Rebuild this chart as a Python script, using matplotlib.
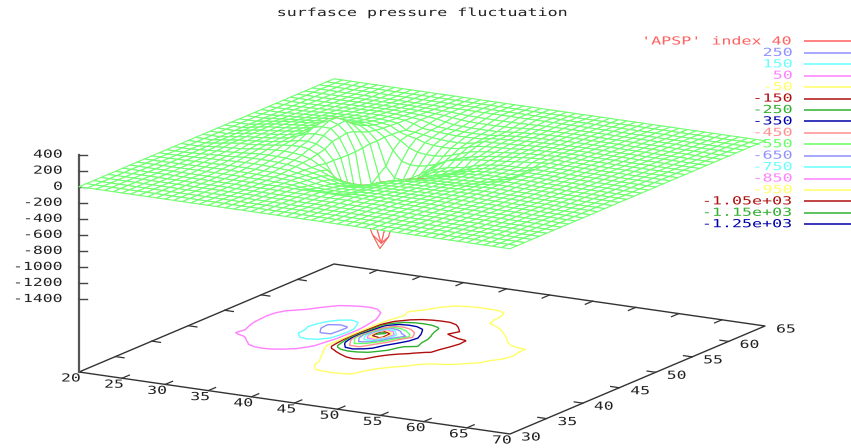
import numpy as np
import matplotlib
matplotlib.use("Agg")
import matplotlib.pyplot as plt
from matplotlib.collections import PolyCollection
from matplotlib.patheffects import AbstractPathEffect
from matplotlib.transforms import Affine2D

title = "surfasce pressure fluctuation"
series_label = "'APSP' index 40"
contour_levels = [250, 150, 50, -50, -150, -250, -350, -450, -550, -650, -750, -850, -950, -1050, -1150, -1250]
contour_labels = ["250", "150", "50", "-50", "-150", "-250", "-350", "-450", "-550", "-650", "-750", "-850", "-950",
                  "-1.05e+03", "-1.15e+03", "-1.25e+03"]
contour_colors = ["#9090ff", "#66ffff", "#ff80ff", "#ffff66", "#b01010", "#30b030", "#0000a8", "#ff9090",
                  "#66ff66", "#9090ff", "#66ffff", "#ff80ff", "#ffff66", "#b01010", "#30b030", "#0000a8"]
series_color = "#ff6060"
mesh_color = "#70ff70"
z_ticks = [400, 200, 0, -200, -400, -600, -800, -1000, -1200, -1400]
x_ticks = [20, 25, 30, 35, 40, 45, 50, 55, 60, 65, 70]
y_ticks = [30, 35, 40, 45, 50, 55, 60, 65]

grid_x = np.arange(20, 71)
grid_y = np.arange(30, 66)

# surface heights; elsewhere the field is close to zero
patch_x = list(range(23, 56))
patch_y = list(range(61, 37, -1))
patch_z = [
    [0, 1, 2, 3, 4, 5, 6, 7, 8, 8, 7, 5, 3, 1, -2, -8, -14, -18, -20, -21, -21, -20, -18, -15, -11, -8, -6, -4, -3, -2, -1, -1, 0],
    [1, 2, 4, 6, 8, 10, 12, 14, 15, 15, 13, 11, 8, 3, -4, -15, -28, -36, -39, -40, -40, -38, -34, -26, -18, -13, -10, -7, -5, -3, -2, -1, 0],
    [2, 4, 7, 10, 13, 16, 20, 23, 25, 25, 22, 18, 12, 4, -8, -32, -50, -56, -60, -60, -60, -58, -48, -36, -28, -21, -15, -11, -8, -5, -3, -2, -1],
    [3, 5, 9, 13, 17, 21, 26, 30, 33, 34, 30, 24, 16, 4, -25, -53, -60, -66, -70, -71, -70, -66, -52, -42, -34, -26, -20, -15, -11, -7, -4, -3, -1],
    [4, 7, 11, 16, 21, 26, 32, 37, 40, 41, 37, 30, 20, -6, -48, -58, -68, -76, -80, -80, -78, -72, -52, -46, -39, -31, -25, -19, -14, -9, -6, -4, -2],
    [6, 9, 14, 20, 26, 32, 38, 43, 46, 47, 44, 36, 24, -48, -60, -75, -95, -105, -112, -112, -105, -85, -52, -49, -45, -38, -32, -25, -18, -12, -8, -5, -3],
    [8, 12, 18, 25, 32, 42, 52, 56, 59, 60, 58, 48, 32, -30, -62, -85, -120, -138, -145, -145, -130, -100, -72, -60, -54, -48, -40, -32, -24, -16, -11, -7, -4],
    [11, 16, 24, 32, 42, 53, 62, 70, 75, 78, 78, 62, 38, -25, -85, -160, -200, -215, -215, -205, -175, -140, -105, -85, -72, -62, -50, -40, -30, -20, -14, -9, -5],
    [14, 22, 32, 42, 52, 62, 72, 82, 92, 102, 110, 95, 50, -20, -170, -290, -320, -320, -300, -265, -215, -175, -140, -112, -90, -75, -62, -52, -40, -28, -19, -13, -7],
    [17, 30, 46, 56, 66, 76, 86, 98, 115, 135, 152, 135, 70, -30, -330, -460, -470, -430, -370, -290, -225, -155, -130, -112, -95, -82, -72, -62, -52, -42, -30, -20, -11],
    [18, 34, 52, 62, 72, 83, 95, 112, 140, 175, 210, 190, 105, -25, -400, -830, -720, -600, -470, -340, -255, -215, -185, -165, -155, -115, -90, -75, -62, -56, -53, -50, -28],
    [18, 36, 54, 64, 74, 85, 100, 120, 158, 265, 290, 270, 150, -40, -480, -1260, -1100, -720, -650, -400, -280, -225, -195, -172, -158, -125, -98, -80, -66, -58, -54, -51, -32],
    [18, 36, 52, 62, 72, 85, 100, 122, 175, 250, 295, 260, 170, -50, -650, -1050, -1140, -680, -460, -370, -285, -235, -205, -178, -150, -118, -94, -78, -66, -58, -55, -52, -46],
    [17, 34, 50, 60, 70, 82, 96, 118, 152, 235, 255, 250, 150, -50, -600, -780, -800, -560, -400, -325, -270, -255, -205, -170, -140, -108, -86, -72, -62, -56, -53, -51, -40],
    [16, 31, 47, 56, 66, 78, 90, 110, 148, 190, 205, 200, 140, -50, -420, -640, -560, -440, -350, -285, -235, -190, -165, -158, -140, -95, -78, -68, -60, -55, -52, -44, -25],
    [15, 28, 44, 52, 62, 74, 86, 100, 122, 145, 152, 135, 82, -40, -300, -470, -470, -390, -320, -265, -215, -175, -148, -118, -100, -84, -72, -64, -58, -53, -48, -34, -15],
    [13, 26, 45, 55, 60, 70, 82, 95, 110, 122, 125, 108, 60, -42, -220, -310, -335, -300, -262, -210, -165, -130, -105, -90, -78, -68, -62, -58, -51, -44, -34, -22, -11],
    [10, 20, 32, 38, 44, 56, 70, 80, 88, 90, 84, 70, 40, -20, -70, -155, -185, -195, -195, -175, -130, -100, -82, -70, -60, -52, -46, -42, -36, -30, -22, -14, -7],
    [8, 15, 24, 30, 36, 44, 54, 60, 64, 62, 56, 46, 30, -14, -38, -85, -125, -152, -158, -150, -118, -88, -70, -60, -52, -45, -40, -35, -30, -25, -18, -11, -5],
    [6, 11, 18, 23, 28, 34, 44, 47, 48, 46, 40, 32, 20, -10, -30, -52, -82, -112, -125, -120, -100, -80, -64, -50, -44, -38, -33, -28, -24, -19, -13, -8, -4],
    [4, 8, 13, 17, 21, 25, 29, 32, 32, 30, 26, 20, 12, -6, -20, -38, -58, -80, -90, -88, -78, -66, -50, -42, -35, -30, -26, -22, -18, -14, -9, -6, -3],
    [3, 5, 8, 11, 13, 16, 18, 19, 19, 17, 14, 10, 6, -3, -12, -28, -52, -64, -70, -70, -66, -58, -40, -32, -26, -22, -19, -16, -13, -10, -6, -4, -2],
    [2, 3, 5, 7, 8, 10, 11, 11, 11, 10, 8, 5, 3, -2, -7, -18, -40, -53, -56, -56, -54, -50, -28, -22, -17, -14, -12, -10, -8, -6, -4, -2, -1],
    [1, 2, 3, 4, 5, 5, 6, 6, 6, 5, 4, 3, 2, -1, -4, -10, -22, -32, -36, -38, -38, -32, -17, -12, -10, -8, -7, -6, -5, -4, -2, -1, -1],
]

Z = np.zeros((len(grid_y), len(grid_x)))
ix = np.searchsorted(grid_x, patch_x)
iy = np.searchsorted(grid_y, patch_y)
for r, row in zip(iy, patch_z):
    Z[r, ix] = row

# gnuplot-style orthographic view, expressed as screen scales
Z_BASE = -2310.0


def project(x, y, z):
    x, y, z = np.asarray(x, float), np.asarray(y, float), np.asarray(z, float)
    px = 79 + (x - 20) * 431 / 50 + (y - 30) * 255 / 35
    py = 372 + (x - 20) * 62 / 50 - (y - 30) * 108 / 35 - (z - Z_BASE) * 0.0802
    return px, py


class StretchX(AbstractPathEffect):
    """Widens glyphs about a screen x, imitating gnuplot's wide raster font."""

    def __init__(self, anchor, factor):
        super().__init__()
        self.anchor, self.factor = anchor, factor

    def draw_path(self, renderer, gc, tpath, affine, rgbFace=None):
        t = affine + Affine2D().translate(-self.anchor, 0).scale(self.factor, 1).translate(self.anchor, 0)
        renderer.draw_path(gc, tpath, t, rgbFace)


fig = plt.figure(figsize=(8.51, 4.48), dpi=100)
ax = fig.add_axes([0, 0, 1, 1])
ax.set_xlim(0, 851)
ax.set_ylim(448, 0)
ax.axis("off")


def label(x, y, s, color="#222222", ha="center"):
    ax.text(x, y, s, color=color, ha=ha, va="center", family="DejaVu Sans Mono", fontsize=8,
            path_effects=[StretchX(x, 1.48)])


AX_C = "#333333"
# base box
cx = [20, 70, 70, 20, 20]
cy = [30, 30, 65, 65, 30]
bx, by = project(cx, cy, [Z_BASE] * 5)
ax.plot(bx, by, color=AX_C, lw=1.0, zorder=2)

# ticks and labels on the base
for t in x_ticks:
    if 20 < t < 70:
        a, b = project([t, t], [30, 31], [Z_BASE] * 2)
        ax.plot(a, b, color=AX_C, lw=0.9)
        a, b = project([t, t], [65, 64], [Z_BASE] * 2)
        ax.plot(a, b, color=AX_C, lw=0.9)
    a, b = project(t, 30, Z_BASE)
    label(float(a) - 8, float(b) + 6.5, str(t))
for t in y_ticks:
    if 30 < t < 65:
        a, b = project([20, 21], [t, t], [Z_BASE] * 2)
        ax.plot(a, b, color=AX_C, lw=0.9)
        a, b = project([70, 69], [t, t], [Z_BASE] * 2)
        ax.plot(a, b, color=AX_C, lw=0.9)
    a, b = project(70, t, Z_BASE)
    label(float(a) + 21, float(b) + 3.5, str(t))

# vertical axis
a, b = project([20, 20], [30, 30], [max(z_ticks), Z_BASE])
ax.plot(a, b, color="#555555", lw=1.6, zorder=2)
for t in z_ticks:
    a, b = project(20, 30, t)
    ax.plot([float(a), float(a) + 8], [float(b), float(b)], color="#444444", lw=1.0)
    label(float(a) - 16, float(b), str(t), ha="right")

# contours on the base
PX, PY = project(*np.meshgrid(grid_x, grid_y), np.full(Z.shape, Z_BASE))
order = np.argsort(contour_levels)
ax.contour(PX, PY, Z, levels=[contour_levels[i] for i in order],
           colors=[contour_colors[i] for i in order], linewidths=1.0, zorder=3)

# hidden-line surface: quads painted back to front, undersides in the series colour
SX, SY = project(*np.meshgrid(grid_x, grid_y), Z)
quads, edges = [], []
for j in range(len(grid_y) - 2, -1, -1):
    for i in range(len(grid_x) - 1):
        q = np.array([[SX[j, i], SY[j, i]], [SX[j, i + 1], SY[j, i + 1]],
                      [SX[j + 1, i + 1], SY[j + 1, i + 1]], [SX[j + 1, i], SY[j + 1, i]]])
        x_, y_ = q[:, 0], q[:, 1]
        area = 0.5 * np.sum(x_ * np.roll(y_, -1) - np.roll(x_, -1) * y_)
        quads.append(q)
        edges.append(mesh_color if area < 0 else series_color)
ax.add_collection(PolyCollection(quads, facecolors="white", edgecolors=edges, linewidths=0.8, zorder=4))

# title and key
ax.text(423.5, 13, title, color="#222222", ha="center", va="center", family="DejaVu Sans Mono", fontsize=8,
        path_effects=[StretchX(423.5, 1.5)], zorder=6)
keys = [series_label] + contour_labels
cols = [series_color] + contour_colors
for k, (s, c) in enumerate(zip(keys, cols)):
    yk = 41.5 + 11.42 * k
    ax.text(793, yk, s, color=c, ha="right", va="center", family="DejaVu Sans Mono", fontsize=8,
            path_effects=[StretchX(793, 1.5)], zorder=6)
    ax.plot([804, 851], [yk, yk], color=c, lw=1.1, zorder=6, solid_capstyle="butt")

fig.savefig("out.png", dpi=100, facecolor="white")
